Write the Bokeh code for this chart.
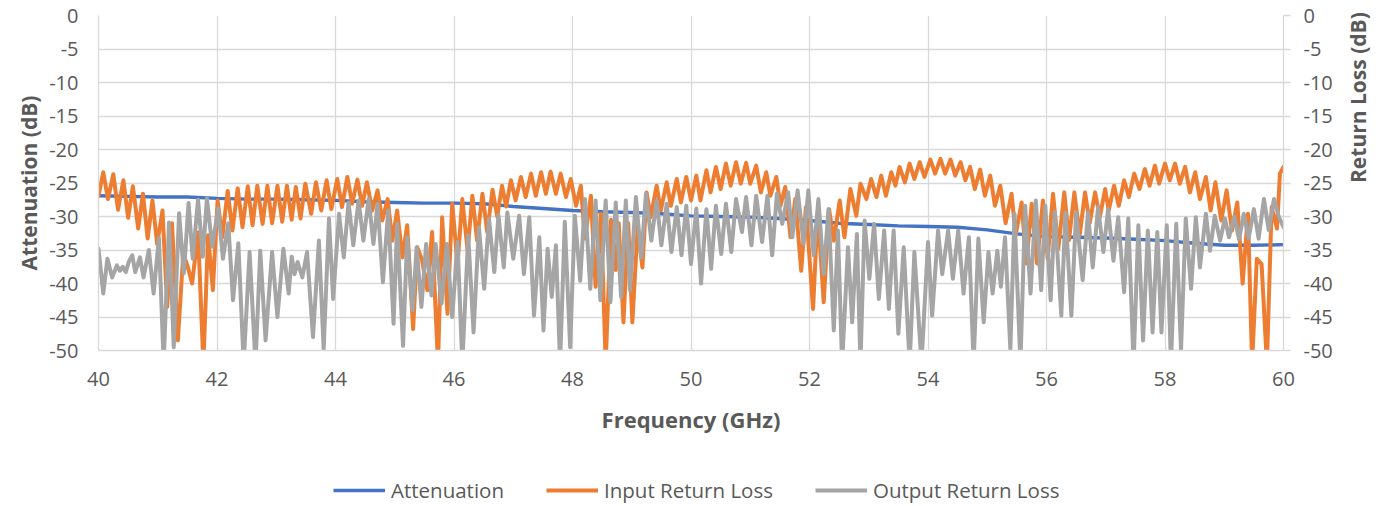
import math
from bokeh.plotting import figure
from bokeh.layouts import column
from bokeh.models import Range1d, LinearAxis, FixedTicker, Legend, LegendItem, PrintfTickFormatter
from bokeh.embed import file_html
from bokeh.resources import INLINE

# ---------------- data ----------------
freq_att = [40.0, 40.5, 41.0, 41.5, 42.0, 42.5, 43.0, 43.5, 44.0, 44.5, 45.0, 45.5, 46.0, 46.5,
            47.0, 47.5, 48.0, 48.5, 49.0, 49.5, 50.0, 50.5, 51.0, 51.5, 52.0, 52.5, 53.0, 53.5,
            54.0, 54.5, 55.0, 55.5, 56.0, 56.5, 57.0, 57.5, 58.0, 58.5, 59.0, 59.5, 60.0]
attenuation = [-26.9, -27.0, -27.1, -27.1, -27.3, -27.4, -27.4, -27.5, -27.6, -27.8, -27.9, -28.0,
               -28.0, -28.1, -28.5, -28.8, -29.1, -29.3, -29.4, -29.6, -29.9, -30.0, -30.1, -30.3,
               -30.6, -31.0, -31.2, -31.4, -31.5, -31.6, -32.0, -32.6, -33.0, -33.1, -33.2, -33.4,
               -33.6, -34.0, -34.3, -34.3, -34.2]

freq_in = [40.00, 40.08, 40.16, 40.25, 40.33, 40.42, 40.50, 40.58, 40.67, 40.75, 40.83, 40.91,
           40.99, 41.08, 41.16, 41.24, 41.34, 41.43, 41.50, 41.58, 41.68, 41.77, 41.85, 41.93,
           42.01, 42.09, 42.18, 42.26, 42.35, 42.43, 42.52, 42.60, 42.68, 42.77, 42.85, 42.93,
           43.02, 43.10, 43.18, 43.26, 43.33, 43.41, 43.49, 43.59, 43.67, 43.76, 43.85, 43.93,
           44.03, 44.11, 44.20, 44.28, 44.37, 44.45, 44.53, 44.62, 44.71, 44.79, 44.88, 44.96,
           45.04, 45.13, 45.21, 45.31, 45.38, 45.46, 45.55, 45.63, 45.73, 45.80, 45.89, 45.97,
           46.06, 46.14, 46.23, 46.31, 46.39, 46.48, 46.56, 46.65, 46.73, 46.81, 46.88, 46.96,
           47.04, 47.13, 47.21, 47.30, 47.38, 47.47, 47.55, 47.63, 47.72, 47.80, 47.89, 47.97,
           48.06, 48.14, 48.21, 48.31, 48.39, 48.48, 48.56, 48.65, 48.73, 48.78, 48.86, 48.94,
           49.01, 49.10, 49.18, 49.25, 49.32, 49.42, 49.49, 49.59, 49.66, 49.76, 49.83, 49.92,
           50.00, 50.09, 50.16, 50.26, 50.33, 50.42, 50.50, 50.59, 50.67, 50.76, 50.84, 50.93,
           51.00, 51.10, 51.18, 51.27, 51.34, 51.44, 51.51, 51.59, 51.68, 51.76, 51.86, 51.94,
           52.06, 52.14, 52.24, 52.33, 52.41, 52.51, 52.59, 52.69, 52.79, 52.86, 52.96, 53.04,
           53.13, 53.21, 53.29, 53.38, 53.45, 53.52, 53.61, 53.69, 53.77, 53.86, 53.94, 54.04,
           54.12, 54.21, 54.29, 54.38, 54.46, 54.55, 54.63, 54.71, 54.79, 54.88, 54.96, 55.05,
           55.13, 55.22, 55.31, 55.41, 55.48, 55.58, 55.66, 55.75, 55.84, 55.94, 56.02, 56.11,
           56.20, 56.30, 56.38, 56.47, 56.56, 56.65, 56.73, 56.82, 56.90, 56.99, 57.05, 57.14,
           57.22, 57.31, 57.39, 57.48, 57.57, 57.66, 57.74, 57.83, 57.90, 58.00, 58.08, 58.17,
           58.25, 58.34, 58.42, 58.51, 58.59, 58.69, 58.77, 58.85, 58.95, 59.04, 59.13, 59.22,
           59.31, 59.40, 59.47, 59.55, 59.63, 59.72, 59.80, 59.89, 59.94, 60.00]
input_rl = [-26.9, -23.4, -27.4, -23.7, -29.0, -24.6, -30.2, -25.5, -31.8, -26.6, -33.3, -27.6,
            -34.1, -29.1, -43.5, -31.0, -48.5, -35.6, -37.3, -40.0, -32.4, -52.0, -32.8, -41.0,
            -27.6, -33.1, -26.2, -32.1, -25.8, -31.6, -25.5, -31.3, -25.4, -31.1, -25.4, -31.0,
            -25.4, -30.8, -25.4, -30.5, -25.6, -30.3, -25.1, -29.6, -24.9, -29.1, -24.6, -28.9,
            -24.4, -28.6, -24.1, -28.1, -24.5, -28.4, -24.9, -29.1, -26.1, -30.6, -27.4, -33.6,
            -29.1, -36.1, -31.3, -46.8, -34.6, -36.5, -41.0, -32.3, -52.0, -30.1, -44.5, -28.1,
            -37.1, -27.4, -35.1, -26.9, -33.6, -26.6, -32.3, -26.0, -30.0, -25.4, -28.5, -24.6,
            -27.6, -24.1, -27.1, -23.6, -26.9, -23.4, -26.6, -23.3, -26.6, -23.6, -27.1, -24.4,
            -28.4, -25.4, -33.3, -26.9, -40.5, -29.6, -52.0, -30.5, -38.0, -31.0, -45.8, -31.0,
            -45.8, -31.5, -37.6, -26.4, -30.1, -25.4, -29.1, -24.9, -28.4, -24.4, -27.9, -24.1,
            -27.6, -23.9, -27.6, -23.1, -26.4, -22.6, -25.9, -22.1, -25.4, -21.9, -25.1, -22.0,
            -25.1, -22.4, -26.4, -23.4, -26.9, -24.1, -28.4, -25.6, -33.1, -27.4, -38.1, -28.6,
            -43.8, -29.1, -42.8, -28.9, -33.6, -27.6, -33.1, -25.9, -29.9, -25.1, -27.4, -24.4,
            -27.1, -23.9, -26.9, -23.4, -25.4, -22.6, -24.9, -22.1, -24.4, -21.9, -24.1, -21.5,
            -23.6, -21.4, -23.6, -21.5, -23.9, -21.9, -24.6, -22.6, -25.9, -23.0, -26.9, -23.9,
            -28.4, -25.4, -31.0, -26.6, -32.8, -27.9, -37.0, -28.1, -37.0, -27.6, -36.3, -26.6,
            -34.8, -26.4, -33.5, -26.4, -32.8, -26.4, -31.0, -26.4, -30.1, -25.9, -29.1, -25.4,
            -28.4, -24.6, -27.1, -23.6, -25.9, -22.9, -25.4, -22.4, -25.1, -22.1, -24.6, -22.1,
            -25.1, -22.6, -26.4, -23.4, -27.4, -24.1, -29.1, -24.9, -30.6, -26.1, -32.1, -27.9,
            -40.0, -29.6, -52.0, -36.3, -37.1, -52.0, -28.6, -31.8, -23.6, -22.6]

freq_out = [40.00, 40.08, 40.15, 40.23, 40.31, 40.36, 40.41, 40.46, 40.51, 40.57, 40.62, 40.70,
            40.76, 40.85, 40.93, 41.02, 41.10, 41.19, 41.27, 41.36, 41.44, 41.52, 41.59, 41.68,
            41.76, 41.83, 41.92, 42.02, 42.10, 42.19, 42.27, 42.36, 42.45, 42.55, 42.65, 42.73,
            42.82, 42.93, 43.02, 43.12, 43.21, 43.26, 43.31, 43.36, 43.44, 43.52, 43.62, 43.72,
            43.80, 43.89, 43.96, 44.06, 44.14, 44.22, 44.30, 44.39, 44.47, 44.56, 44.64, 44.71,
            44.80, 44.89, 44.98, 45.04, 45.14, 45.21, 45.30, 45.37, 45.45, 45.53, 45.62, 45.69,
            45.79, 45.88, 45.97, 46.06, 46.14, 46.24, 46.33, 46.42, 46.51, 46.59, 46.68, 46.75,
            46.84, 46.90, 47.00, 47.10, 47.18, 47.27, 47.35, 47.44, 47.51, 47.58, 47.65, 47.72,
            47.79, 47.87, 47.96, 48.04, 48.13, 48.21, 48.30, 48.39, 48.47, 48.56, 48.64, 48.73,
            48.82, 48.90, 48.97, 49.07, 49.16, 49.24, 49.33, 49.42, 49.50, 49.59, 49.67, 49.76,
            49.84, 49.92, 50.00, 50.09, 50.17, 50.26, 50.34, 50.42, 50.51, 50.59, 50.68, 50.76,
            50.86, 50.93, 51.02, 51.10, 51.20, 51.29, 51.37, 51.45, 51.54, 51.64, 51.71, 51.80,
            51.90, 51.98, 52.07, 52.15, 52.24, 52.32, 52.41, 52.48, 52.55, 52.65, 52.72, 52.80,
            52.86, 52.93, 53.01, 53.09, 53.17, 53.26, 53.34, 53.42, 53.50, 53.59, 53.69, 53.77,
            53.89, 54.00, 54.07, 54.17, 54.24, 54.34, 54.42, 54.51, 54.60, 54.69, 54.77, 54.85,
            54.94, 55.02, 55.09, 55.17, 55.23, 55.30, 55.39, 55.46, 55.56, 55.64, 55.73, 55.82,
            55.91, 55.98, 56.07, 56.14, 56.25, 56.32, 56.42, 56.50, 56.61, 56.70, 56.78, 56.87,
            56.96, 57.04, 57.13, 57.21, 57.31, 57.38, 57.47, 57.55, 57.63, 57.71, 57.79, 57.87,
            57.94, 58.03, 58.10, 58.19, 58.27, 58.35, 58.44, 58.52, 58.59, 58.69, 58.76, 58.84,
            58.93, 59.01, 59.08, 59.17, 59.25, 59.33, 59.41, 59.50, 59.58, 59.67, 59.75, 59.84,
            59.92, 60.00]
output_rl = [-34.8, -41.5, -36.3, -39.1, -37.3, -38.1, -37.5, -38.3, -36.8, -35.8, -38.3, -36.1,
             -39.1, -35.0, -41.5, -33.2, -52.0, -30.9, -49.5, -29.5, -38.5, -28.0, -36.3, -27.5,
             -36.0, -27.3, -34.5, -28.8, -36.3, -31.0, -42.5, -34.0, -52.0, -35.3, -52.0, -35.1,
             -48.5, -35.3, -45.0, -34.8, -41.5, -36.0, -38.6, -36.8, -39.1, -35.3, -48.0, -33.6,
             -49.8, -30.3, -42.3, -29.6, -36.1, -27.9, -34.3, -27.6, -33.6, -27.4, -34.1, -28.1,
             -39.8, -29.1, -46.0, -31.1, -49.3, -33.1, -44.0, -34.6, -43.5, -34.1, -41.8, -34.1,
             -43.0, -34.1, -45.0, -33.8, -52.0, -32.8, -47.3, -31.6, -40.8, -30.3, -38.3, -29.8,
             -37.6, -29.4, -36.3, -29.9, -38.6, -30.1, -44.8, -33.1, -47.0, -34.8, -42.0, -34.3,
             -52.0, -30.8, -49.5, -29.9, -39.6, -27.4, -40.8, -27.6, -42.5, -27.6, -42.8, -27.9,
             -42.0, -27.6, -41.0, -27.1, -36.1, -26.6, -33.6, -27.6, -34.3, -28.1, -35.3, -28.6,
             -35.8, -28.4, -37.1, -28.8, -40.0, -28.9, -37.8, -28.4, -35.6, -28.1, -35.3, -27.4,
             -32.3, -27.1, -34.3, -26.9, -33.8, -26.9, -35.8, -26.6, -31.1, -26.4, -33.1, -26.1,
             -34.1, -26.1, -35.8, -27.4, -38.6, -28.9, -47.0, -32.1, -52.0, -34.6, -45.8, -32.6,
             -52.0, -30.6, -39.3, -31.1, -42.3, -32.1, -43.8, -32.1, -47.5, -34.6, -52.0, -35.3,
             -52.0, -33.8, -44.8, -32.1, -38.6, -32.1, -39.3, -32.1, -41.5, -33.1, -52.0, -33.3,
             -45.8, -35.3, -41.5, -35.1, -40.5, -33.1, -49.8, -29.6, -52.0, -28.4, -41.5, -27.6,
             -41.0, -28.4, -42.5, -29.3, -44.8, -29.4, -44.8, -29.4, -39.5, -29.4, -37.6, -28.6,
             -35.3, -28.9, -36.6, -30.1, -41.3, -30.3, -52.0, -31.3, -48.5, -32.1, -47.3, -32.3,
             -47.3, -31.3, -52.0, -31.1, -50.0, -30.3, -40.8, -30.1, -37.6, -29.6, -35.1, -29.9,
             -33.6, -30.3, -33.1, -30.0, -33.4, -29.6, -33.3, -28.9, -33.3, -27.4, -32.0, -27.4,
             -30.0, -31.6]

x_ticks = [40, 42, 44, 46, 48, 50, 52, 54, 56, 58, 60]
y_ticks = [-50, -45, -40, -35, -30, -25, -20, -15, -10, -5, 0]

series_names = ["Attenuation", "Input Return Loss", "Output Return Loss"]
series_colors = ["#4472C4", "#ED7D31", "#A5A5A5"]
series_widths = [3.4, 4, 4]
series_x = [freq_att, freq_in, freq_out]
series_y = [attenuation, input_rl, output_rl]

# ---------------- styling ----------------
TEXT = "#595959"
GRID = "#d9d9d9"
FONT = "Open Sans"

p = figure(width=1389, height=450, output_backend="svg", toolbar_location=None,
           x_range=Range1d(40, 60), y_range=Range1d(-50, 0),
           min_border_left=98, min_border_right=106, min_border_top=15, min_border_bottom=100,
           x_axis_label="Frequency (GHz)", y_axis_label="Attenuation (dB)")
p.extra_y_ranges = {"rl": Range1d(-50, 0)}
p.outline_line_color = None
p.background_fill_color = "white"
p.border_fill_color = "white"

p.xgrid.ticker = FixedTicker(ticks=x_ticks)
p.ygrid.ticker = FixedTicker(ticks=y_ticks)
for g in (p.xgrid[0], p.ygrid[0]):
    g.grid_line_color = GRID
    g.grid_line_width = 1.3

for xs, ys, c, w in zip(series_x, series_y, series_colors, series_widths):
    p.line(xs, ys, line_color=c, line_width=w, line_join="round", line_cap="round")

right = LinearAxis(y_range_name="rl", axis_label="Return Loss (dB)")
p.add_layout(right, "right")

xa = p.xaxis[0]
ya = p.yaxis[0]
xa.ticker = FixedTicker(ticks=x_ticks)
ya.ticker = FixedTicker(ticks=y_ticks)
right.ticker = FixedTicker(ticks=y_ticks)

for ax in (xa, ya, right):
    ax.formatter = PrintfTickFormatter(format="%d")
    ax.axis_line_color = GRID
    ax.axis_line_width = 1.3
    ax.minor_tick_line_color = None
    ax.major_tick_in = 0
    ax.major_tick_out = 0
    ax.major_label_text_font = FONT
    ax.major_label_text_font_size = "20px"
    ax.major_label_text_color = TEXT
    ax.axis_label_text_font = FONT
    ax.axis_label_text_font_size = "21px"
    ax.axis_label_text_font_style = "bold"
    ax.axis_label_text_color = TEXT

xa.axis_label_text_font_size = "22px"
right.major_tick_out = 7
right.major_tick_line_color = GRID
right.major_tick_line_width = 1.3

xa.major_label_standoff = 21
xa.axis_label_standoff = 15
ya.major_label_standoff = 20
ya.axis_label_standoff = 3
right.major_label_standoff = 13
right.axis_label_standoff = 22
try:
    right.axis_label_orientation = math.pi / 2
except Exception:
    pass

# ---------------- legend strip below the chart ----------------
# same series, drawn into a strip whose ranges keep them out of view; only the legend shows
lg = figure(width=1389, height=56, output_backend="svg", toolbar_location=None,
            x_range=Range1d(0, 1), y_range=Range1d(0, 1),
            x_axis_location=None, y_axis_location=None, min_border=0)
lg.outline_line_color = None
lg.grid.visible = False
keys = [lg.line(xs, ys, line_color=c, line_width=w)
        for xs, ys, c, w in zip(series_x, series_y, series_colors, series_widths)]

legend = Legend(items=[LegendItem(label=n, renderers=[k]) for n, k in zip(series_names, keys)],
                orientation="horizontal", location=(235, 2))
legend.label_text_font = FONT
legend.label_text_font_size = "20.5px"
legend.label_text_color = TEXT
legend.glyph_width = 52
legend.glyph_height = 20
legend.label_height = 20
legend.label_standoff = 6
legend.spacing = 42
legend.padding = 0
legend.margin = 0
legend.border_line_color = None
legend.background_fill_alpha = 0
lg.add_layout(legend)

page = column(p, lg, spacing=0)
open("out.html", "w").write(file_html(page, INLINE))
